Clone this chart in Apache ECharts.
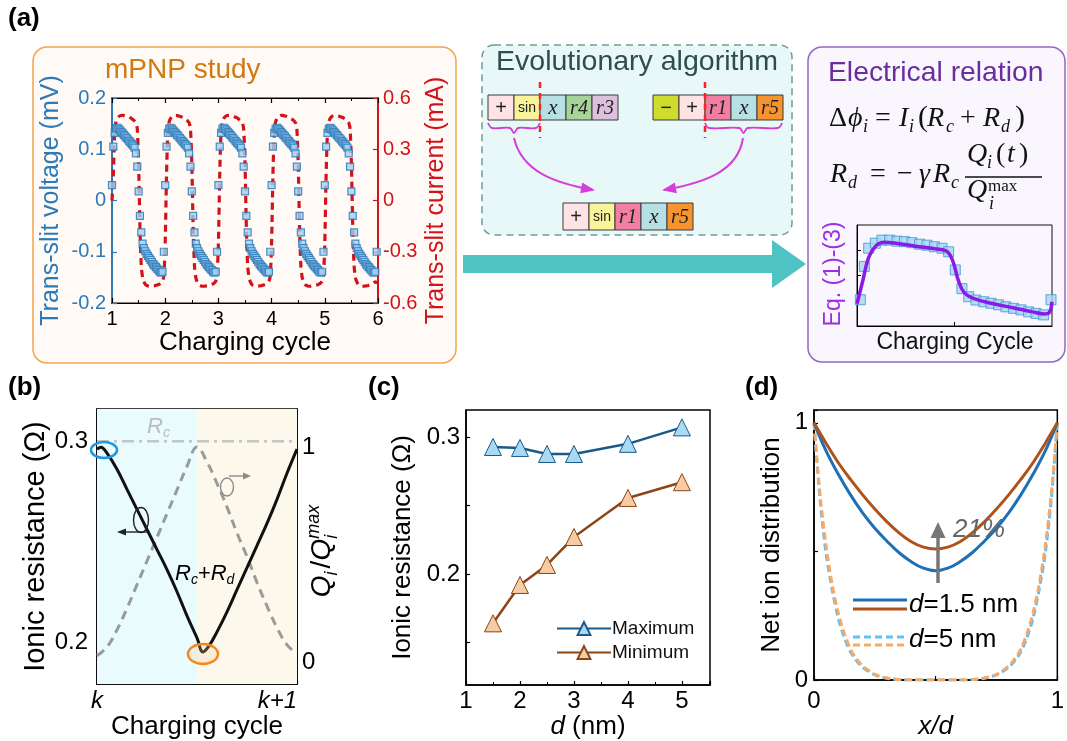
<!DOCTYPE html>
<html><head><meta charset="utf-8">
<script src="https://cdn.jsdelivr.net/npm/echarts@6/dist/echarts.min.js"></script>
<style>html,body{margin:0;padding:0;background:#fff}#c{width:1067px;height:741px}</style>
</head><body><div id="c"></div>
<script>
const SANS = '"Liberation Sans", Arial, Helvetica, sans-serif';
const SERIF = '"Liberation Serif", "DejaVu Serif", "Times New Roman", serif';

// ---------- (a) mPNP study: sampled every 0.025 charging cycle starting at 1 ----------
const SAMPLE_START = 1, SAMPLE_STEP = 0.025;
const voltage = [
 0.030,0.105,0.132,0.140,0.142,0.140,0.137,0.134,0.131,0.128,0.125,0.122,0.119,0.116,0.113,0.110,0.107,0.103,0.092,0.066,0.018,-0.030,-0.062,-0.084,-0.093,-0.099,-0.104,-0.108,-0.112,-0.116,-0.120,-0.124,-0.127,-0.130,-0.133,-0.136,-0.139,-0.141,-0.139,-0.100,
 0.030,0.105,0.132,0.140,0.142,0.140,0.137,0.134,0.131,0.128,0.125,0.122,0.119,0.116,0.113,0.110,0.107,0.103,0.092,0.066,0.018,-0.030,-0.062,-0.084,-0.093,-0.099,-0.104,-0.108,-0.112,-0.116,-0.120,-0.124,-0.127,-0.130,-0.133,-0.136,-0.139,-0.141,-0.139,-0.100,
 0.030,0.105,0.132,0.140,0.142,0.140,0.137,0.134,0.131,0.128,0.125,0.122,0.119,0.116,0.113,0.110,0.107,0.103,0.092,0.066,0.018,-0.030,-0.062,-0.084,-0.093,-0.099,-0.104,-0.108,-0.112,-0.116,-0.120,-0.124,-0.127,-0.130,-0.133,-0.136,-0.139,-0.141,-0.139,-0.100,
 0.030,0.105,0.132,0.140,0.142,0.140,0.137,0.134,0.131,0.128,0.125,0.122,0.119,0.116,0.113,0.110,0.107,0.103,0.092,0.066,0.018,-0.030,-0.062,-0.084,-0.093,-0.099,-0.104,-0.108,-0.112,-0.116,-0.120,-0.124,-0.127,-0.130,-0.133,-0.136,-0.139,-0.141,-0.139,-0.100,
 0.030,0.105,0.132,0.140,0.142,0.140,0.137,0.134,0.131,0.128,0.125,0.122,0.119,0.116,0.113,0.110,0.107,0.103,0.092,0.066,0.018,-0.030,-0.062,-0.084,-0.093,-0.099,-0.104,-0.108,-0.112,-0.116,-0.120,-0.124,-0.127,-0.130,-0.133,-0.136,-0.139,-0.141,-0.139,-0.100
];
const current = [
 0.00,0.15,0.40,0.46,0.48,0.49,0.495,0.498,0.498,0.497,0.495,0.493,0.490,0.487,0.483,0.478,0.472,0.465,0.455,0.42,0.22,-0.15,-0.38,-0.45,-0.475,-0.49,-0.497,-0.50,-0.502,-0.502,-0.501,-0.50,-0.499,-0.497,-0.495,-0.492,-0.488,-0.482,-0.472,-0.44,
 -0.25,0.15,0.40,0.46,0.48,0.49,0.495,0.498,0.498,0.497,0.495,0.493,0.490,0.487,0.483,0.478,0.472,0.465,0.455,0.42,0.22,-0.15,-0.38,-0.45,-0.475,-0.49,-0.497,-0.50,-0.502,-0.502,-0.501,-0.50,-0.499,-0.497,-0.495,-0.492,-0.488,-0.482,-0.472,-0.44,
 -0.25,0.15,0.40,0.46,0.48,0.49,0.495,0.498,0.498,0.497,0.495,0.493,0.490,0.487,0.483,0.478,0.472,0.465,0.455,0.42,0.22,-0.15,-0.38,-0.45,-0.475,-0.49,-0.497,-0.50,-0.502,-0.502,-0.501,-0.50,-0.499,-0.497,-0.495,-0.492,-0.488,-0.482,-0.472,-0.44,
 -0.25,0.15,0.40,0.46,0.48,0.49,0.495,0.498,0.498,0.497,0.495,0.493,0.490,0.487,0.483,0.478,0.472,0.465,0.455,0.42,0.22,-0.15,-0.38,-0.45,-0.475,-0.49,-0.497,-0.50,-0.502,-0.502,-0.501,-0.50,-0.499,-0.497,-0.495,-0.492,-0.488,-0.482,-0.472,-0.44,
 -0.25,0.15,0.40,0.46,0.48,0.49,0.495,0.498,0.498,0.497,0.495,0.493,0.490,0.487,0.483,0.478,0.472,0.465,0.455,0.42,0.22,-0.15,-0.38,-0.45,-0.475,-0.49,-0.497,-0.50,-0.502,-0.502,-0.501,-0.50,-0.499,-0.497,-0.495,-0.492,-0.488,-0.482,-0.476,-0.48,
 -0.48
];

// ---------- (a) inset "Eq. (1)-(3)" ----------
const insetSqX = [0.017,0.038,0.06,0.094,0.128,0.167,0.205,0.243,0.282,0.321,0.359,0.397,0.436,0.47,0.504,0.538,0.573,0.61,0.65,0.687,0.726,0.764,0.803,0.841,0.88,0.918,0.957,0.995];
const insetSqY = [0.26,0.59,0.77,0.82,0.85,0.85,0.84,0.835,0.825,0.81,0.80,0.785,0.77,0.735,0.555,0.37,0.29,0.257,0.24,0.225,0.21,0.19,0.175,0.16,0.14,0.125,0.11,0.26];
const insetLX = [0,0.03,0.06,0.1,0.14,0.2,0.3,0.4,0.46,0.49,0.52,0.55,0.6,0.7,0.8,0.9,0.96,0.985,1.0];
const insetLY = [0.22,0.45,0.68,0.8,0.83,0.82,0.79,0.765,0.74,0.65,0.45,0.33,0.27,0.22,0.18,0.14,0.12,0.13,0.24];

// ---------- (b) ----------
const bT = [0,0.02,0.05,0.1,0.15,0.2,0.25,0.3,0.35,0.4,0.45,0.5,0.53,0.56,0.6,0.65,0.7,0.75,0.8,0.85,0.9,0.95,1.0];
const bRes = [0.296,0.297,0.294,0.286,0.276,0.266,0.256,0.246,0.236,0.225,0.213,0.202,0.195,0.198,0.205,0.215,0.226,0.237,0.248,0.259,0.271,0.284,0.296];
const qT = [0,0.05,0.1,0.15,0.2,0.25,0.3,0.35,0.4,0.45,0.5,0.55,0.6,0.65,0.7,0.75,0.8,0.85,0.9,0.95,1.0];
const qVal = [0.03,0.07,0.15,0.25,0.36,0.47,0.58,0.69,0.80,0.91,1.0,0.93,0.83,0.72,0.60,0.49,0.37,0.26,0.16,0.08,0.04];
const rcValue = 0.3;
const bXLabels = {0: 'k', 1: 'k+1'};

// ---------- (c) ----------
const cD = [1.5, 2, 2.5, 3, 4, 5];
const cMax = [0.2927, 0.292, 0.2876, 0.2876, 0.295, 0.307];
const cMin = [0.164, 0.192, 0.2066, 0.227, 0.2555, 0.267];

// ---------- (d) ----------
const dX = [0,0.05,0.1,0.15,0.2,0.25,0.3,0.35,0.4,0.45,0.5,0.55,0.6,0.65,0.7,0.75,0.8,0.85,0.9,0.95,1];
const d15Blue = [1.0,0.89,0.80,0.72,0.65,0.59,0.54,0.495,0.46,0.435,0.425,0.435,0.46,0.495,0.54,0.59,0.65,0.72,0.80,0.89,1.0];
const d15Brown = [1.0,0.92,0.845,0.78,0.72,0.665,0.615,0.572,0.538,0.517,0.51,0.517,0.538,0.572,0.615,0.665,0.72,0.78,0.845,0.92,1.0];
const dX5 = [0,0.025,0.05,0.075,0.1,0.125,0.15,0.175,0.2,0.25,0.3,0.35,0.4,0.5,0.6,0.65,0.7,0.75,0.8,0.825,0.85,0.875,0.9,0.925,0.95,0.975,1];
const d5Blue = [1,0.70,0.49,0.35,0.24,0.165,0.11,0.075,0.05,0.02,0.007,0.002,0,0,0,0.002,0.007,0.02,0.05,0.075,0.11,0.165,0.24,0.35,0.49,0.70,1];
const d5Orange = [1,0.72,0.52,0.37,0.26,0.18,0.12,0.082,0.055,0.022,0.008,0.002,0,0,0,0.002,0.008,0.022,0.055,0.082,0.12,0.18,0.26,0.37,0.52,0.72,1];

// ---------- helpers ----------
const zip = (xs, ys) => xs.map((x, i) => [x, ys[i]]);
function merge(a, b) {
  const o = Array.isArray(a) ? a.slice() : Object.assign({}, a);
  for (const k in b) {
    if (b[k] && typeof b[k] === 'object' && !Array.isArray(b[k]) && a && typeof a[k] === 'object' && !Array.isArray(a[k])) o[k] = merge(a[k], b[k]);
    else o[k] = b[k];
  }
  return o;
}
const AX = {
  type: 'value', nameLocation: 'middle', splitLine: {show: false},
  axisLine: {show: true, onZero: false, lineStyle: {color: '#000', width: 1.5}},
  axisTick: {show: true, inside: true, length: 5, lineStyle: {color: '#000', width: 1.2}},
  axisLabel: {fontSize: 24, color: '#000', fontFamily: SANS},
  nameTextStyle: {fontSize: 26, color: '#000', fontFamily: SANS}
};
const ax = o => merge(AX, o);

const mctx = document.createElement('canvas').getContext('2d');
const fstr = s => (s.it ? 'italic ' : '') + (s.b ? 'bold ' : '') + s.sz + 'px ' + (s.ff || SANS);
function tw(t, f) { mctx.font = f; return mctx.measureText(t).width; }
function run(segs, x0, base, color, z) {
  const els = []; let x = x0;
  segs.forEach(s => {
    const f = fstr(s);
    const xx = (s.x != null) ? s.x : x;
    els.push({type: 'text', x: xx, y: base + (s.dy || 0) - 0.34 * s.sz, z: z || 60,
      style: {text: s.t, font: f, fill: s.c || color, align: 'left', verticalAlign: 'middle', textAlign: 'left', textVerticalAlign: 'middle'}});
    if (!s.stay) x = xx + tw(s.t, f) + (s.sp || 0);
  });
  return {els, w: x - x0};
}
function txt(x, y, t, sz, o) {
  o = o || {};
  return {type: 'text', x, y, rotation: o.rot || 0, z: o.z || 60,
    style: {text: t, font: (o.it ? 'italic ' : '') + (o.b ? 'bold ' : '') + sz + 'px ' + (o.ff || SANS), fill: o.c || '#000',
      align: o.al || 'left', verticalAlign: 'middle', textAlign: o.al || 'left', textVerticalAlign: 'middle'}};
}
const G = [];
function arrow(x1, y1, x2, y2, c, w, hl, hw) {
  const dx = x2 - x1, dy = y2 - y1, L = Math.hypot(dx, dy), ux = dx / L, uy = dy / L;
  const bx = x2 - ux * hl, by = y2 - uy * hl;
  G.push({type: 'line', shape: {x1, y1, x2: bx + ux, y2: by + uy}, style: {stroke: c, lineWidth: w}, z: 40});
  G.push({type: 'polygon', shape: {points: [[x2, y2], [bx - uy * hw, by + ux * hw], [bx + uy * hw, by - ux * hw]]}, style: {fill: c}, z: 40});
}
function curveArrow(p0, c1, c2, p1, col) {
  G.push({type: 'bezierCurve', shape: {x1: p0[0], y1: p0[1], cpx1: c1[0], cpy1: c1[1], cpx2: c2[0], cpy2: c2[1], x2: p1[0], y2: p1[1]},
    style: {stroke: col, lineWidth: 2, fill: 'none'}, z: 40});
  const dx = p1[0] - c2[0], dy = p1[1] - c2[1], L = Math.hypot(dx, dy), ux = dx / L, uy = dy / L;
  const hl = 12, hw = 5.5, bx = p1[0] - ux * hl, by = p1[1] - uy * hl;
  G.push({type: 'polygon', shape: {points: [[p1[0] + ux * 2, p1[1] + uy * 2], [bx - uy * hw, by + ux * hw], [bx + uy * hw, by - ux * hw]]}, style: {fill: col}, z: 41});
}
function brace(x0, x1, y, col) {
  const m = (x0 + x1) / 2;
  G.push({type: 'polyline', shape: {points: [[x0, y], [x0 + 4, y + 5], [m - 4, y + 5], [m, y + 10], [m + 4, y + 5], [x1 - 4, y + 5], [x1, y]], smooth: 0.35},
    style: {stroke: col, lineWidth: 1.8, fill: 'none'}, z: 40});
}

// ---------- decoration: boxes, titles ----------
G.push({type: 'rect', shape: {x: 33, y: 47, width: 423, height: 316, r: 14}, style: {fill: '#fffaf5', stroke: '#f3a44f', lineWidth: 1.5}, z: -10});
G.push({type: 'rect', shape: {x: 482, y: 45, width: 310, height: 190, r: 12}, style: {fill: '#e8f7f7', stroke: '#6f9c98', lineWidth: 1.5, lineDash: [7, 5]}, z: -10});
G.push({type: 'rect', shape: {x: 808, y: 47, width: 257, height: 315, r: 14}, style: {fill: '#f9f6fd', stroke: '#9468bf', lineWidth: 1.5}, z: -10});
G.push({type: 'polygon', shape: {points: [[463, 255], [772, 255], [772, 240], [806, 264], [772, 288], [772, 273], [463, 273]]}, style: {fill: '#4fc3c3'}, z: 5});

G.push(txt(8, 19, '(a)', 26, {b: 1}));
G.push(txt(8, 388, '(b)', 26, {b: 1}));
G.push(txt(368, 388, '(c)', 26, {b: 1}));
G.push(txt(745, 388, '(d)', 26, {b: 1}));

G.push(txt(105, 70, 'mPNP study', 28, {c: '#d07a12'}));
G.push(txt(637, 62, 'Evolutionary algorithm', 28.5, {c: '#2e4e4b', al: 'center'}));
G.push(txt(828, 73, 'Electrical relation', 28.3, {c: '#6a2d9f'}));

// ---------- gene blocks ----------
const CELL = {
  '+': {t: '+', f: '20px ' + SANS}, '−': {t: '−', f: '20px ' + SANS}, 'sin': {t: 'sin', f: '14px ' + SANS},
  'x': {t: 'x', f: 'italic 21px ' + SERIF}, 'r1': {t: 'r1', f: 'italic 20px ' + SERIF}, 'r3': {t: 'r3', f: 'italic 20px ' + SERIF},
  'r4': {t: 'r4', f: 'italic 20px ' + SERIF}, 'r5': {t: 'r5', f: 'italic 20px ' + SERIF}
};
const CCOL = {'+': '#fde3e3', '−': '#cfdc2e', 'sin': '#fbf39a', 'x': '#b6e0e4', 'r1': '#f27fa3', 'r3': '#dcc0de', 'r4': '#a7d49a', 'r5': '#f7942f'};
function cells(x0, y0, w, h, keys) {
  keys.forEach((k, i) => {
    G.push({type: 'rect', shape: {x: x0 + i * w, y: y0, width: w, height: h}, style: {fill: CCOL[k], stroke: '#3a3a3a', lineWidth: 1}, z: 20});
    G.push({type: 'text', x: x0 + i * w + w / 2, y: y0 + h / 2 + 1, z: 21,
      style: {text: CELL[k].t, font: CELL[k].f, fill: '#222', align: 'center', verticalAlign: 'middle', textAlign: 'center', textVerticalAlign: 'middle'}});
  });
}
cells(488, 95, 26, 25, ['+', 'sin', 'x', 'r4', 'r3']);
cells(653, 95, 26, 25, ['−', '+', 'r1', 'x', 'r5']);
cells(563, 203, 26, 27, ['+', 'sin', 'r1', 'x', 'r5']);
G.push({type: 'line', shape: {x1: 540, y1: 82, x2: 540, y2: 138}, style: {stroke: '#ff2020', lineWidth: 2.5, lineDash: [6, 5]}, z: 30});
G.push({type: 'line', shape: {x1: 705, y1: 82, x2: 705, y2: 138}, style: {stroke: '#ff2020', lineWidth: 2.5, lineDash: [6, 5]}, z: 30});
brace(488, 540, 123, '#d040d0');
brace(705, 782, 123, '#d040d0');
curveArrow([514, 138], [522, 172], [555, 183], [593, 190], '#d63fd6');
curveArrow([743, 138], [738, 172], [703, 183], [664, 190], '#d63fd6');

// ---------- equations ----------
const E = 28, S = 18;
run([
  {t: 'Δ', sz: E, ff: SERIF, x: 829}, {t: 'ϕ', sz: E, ff: SERIF, it: 1, x: 848}, {t: 'i', sz: S, ff: SERIF, it: 1, dy: 5, x: 863},
  {t: '=', sz: E, ff: SERIF, x: 875}, {t: 'I', sz: E, ff: SERIF, it: 1, x: 899}, {t: 'i', sz: S, ff: SERIF, it: 1, dy: 5, x: 909},
  {t: '(', sz: 30, ff: SERIF, x: 918}, {t: 'R', sz: E, ff: SERIF, it: 1, x: 927}, {t: 'c', sz: S, ff: SERIF, it: 1, dy: 5, x: 946},
  {t: '+', sz: E, ff: SERIF, x: 960}, {t: 'R', sz: E, ff: SERIF, it: 1, x: 983}, {t: 'd', sz: S, ff: SERIF, it: 1, dy: 5, x: 1001},
  {t: ')', sz: 30, ff: SERIF, x: 1015}
], 830, 128, '#111').els.forEach(e => G.push(e));
run([
  {t: 'R', sz: E, ff: SERIF, it: 1, x: 830}, {t: 'd', sz: S, ff: SERIF, it: 1, dy: 5, x: 848},
  {t: '=', sz: E, ff: SERIF, x: 870}, {t: '−', sz: E, ff: SERIF, x: 897}, {t: 'γ', sz: E, ff: SERIF, it: 1, x: 919},
  {t: 'R', sz: E, ff: SERIF, it: 1, x: 933}, {t: 'c', sz: S, ff: SERIF, it: 1, dy: 5, x: 951}
], 830, 184, '#111').els.forEach(e => G.push(e));
run([
  {t: 'Q', sz: E, ff: SERIF, it: 1, x: 967}, {t: 'i', sz: S, ff: SERIF, it: 1, dy: 5, x: 987},
  {t: '(', sz: E, ff: SERIF, x: 996}, {t: 't', sz: E, ff: SERIF, it: 1, x: 1007}, {t: ')', sz: E, ff: SERIF, x: 1019}
], 967, 164, '#111').els.forEach(e => G.push(e));
G.push({type: 'line', shape: {x1: 965, y1: 177, x2: 1042, y2: 177}, style: {stroke: '#111', lineWidth: 1.3}, z: 60});
run([
  {t: 'Q', sz: E, ff: SERIF, it: 1, x: 967}, {t: 'i', sz: S, ff: SERIF, it: 1, dy: 10, x: 989}, {t: 'max', sz: 17, ff: SERIF, dy: -8, x: 988}
], 967, 200, '#111').els.forEach(e => G.push(e));

// inset labels
G.push(txt(834, 274, 'Eq. (1)-(3)', 23, {c: '#9a2ee6', al: 'center', rot: Math.PI / 2}));
G.push(txt(955, 343, 'Charging Cycle', 23, {c: '#111', al: 'center'}));

// ---------- (b) annotations ----------
run([{t: 'R', sz: 22, it: 1, c: '#bdbdbd'}, {t: 'c', sz: 14, it: 1, dy: 4, c: '#bdbdbd'}], 147, 434, '#bdbdbd').els.forEach(e => G.push(e));
run([{t: 'R', sz: 22, it: 1}, {t: 'c', sz: 14, it: 1, dy: 4}, {t: '+', sz: 22}, {t: 'R', sz: 22, it: 1}, {t: 'd', sz: 14, it: 1, dy: 4}], 175, 581, '#000').els.forEach(e => G.push(e));
G.push({type: 'ellipse', shape: {cx: 104, cy: 450, rx: 13, ry: 8}, style: {fill: 'none', stroke: '#1f98dc', lineWidth: 2.5}, z: 45});
G.push({type: 'ellipse', shape: {cx: 203, cy: 654, rx: 15, ry: 10}, style: {fill: 'rgba(248,200,150,0.25)', stroke: '#f28a1a', lineWidth: 2.5}, z: 45});
G.push({type: 'ellipse', shape: {cx: 141, cy: 520, rx: 7.5, ry: 12.5}, style: {fill: 'none', stroke: '#222', lineWidth: 1.4}, z: 45});
arrow(148, 532, 117, 532, '#222', 1.4, 9, 3.5);
G.push({type: 'ellipse', shape: {cx: 227, cy: 487, rx: 6.5, ry: 9}, style: {fill: 'none', stroke: '#8a8a8a', lineWidth: 1.4}, z: 45});
arrow(229, 476, 251, 476, '#8a8a8a', 1.4, 8, 3.5);
(function () {
  const r = run([
    {t: 'Q', sz: 28, it: 1}, {t: 'i', sz: 18, it: 1, dy: 6, sp: 3}, {t: '/', sz: 28}, {t: 'Q', sz: 28, it: 1},
    {t: 'i', sz: 18, it: 1, dy: 6, stay: 1}, {t: 'max', sz: 18, it: 1, dy: -12}
  ], 0, 10, '#000');
  r.els.forEach(e => { e.x -= r.w / 2; });
  G.push({type: 'group', x: 322, y: 551, rotation: Math.PI / 2, children: r.els, z: 60});
})();

// ---------- (d) legend & arrow ----------
G.push({type: 'line', shape: {x1: 853, y1: 600, x2: 907, y2: 600}, style: {stroke: '#1e6fb5', lineWidth: 3}, z: 50});
G.push({type: 'line', shape: {x1: 853, y1: 609, x2: 907, y2: 609}, style: {stroke: '#b0521c', lineWidth: 3}, z: 50});
G.push({type: 'line', shape: {x1: 853, y1: 637, x2: 907, y2: 637}, style: {stroke: '#5ec0f5', lineWidth: 3, lineDash: [7, 4]}, z: 50});
G.push({type: 'line', shape: {x1: 853, y1: 645, x2: 907, y2: 645}, style: {stroke: '#f5aa6a', lineWidth: 3, lineDash: [7, 4]}, z: 50});
run([{t: 'd', sz: 26, it: 1}, {t: '=1.5 nm', sz: 26}], 909, 614, '#000').els.forEach(e => G.push(e));
run([{t: 'd', sz: 26, it: 1}, {t: '=5 nm', sz: 26}], 909, 649, '#000').els.forEach(e => G.push(e));
arrow(938, 583, 938, 522, '#777', 3.5, 16, 7.5);
G.push(txt(953, 530, '21%', 26, {it: 1, c: '#666'}));

// ---------- option ----------
const option = {
  animation: false,
  backgroundColor: '#ffffff',
  grid: [
    {left: 112, top: 98, width: 266, height: 205, show: true, borderColor: '#111', borderWidth: 1.2},
    {left: 857, top: 225, width: 195, height: 101, show: true, borderColor: '#111', borderWidth: 1},
    {left: 97, top: 409, width: 200, height: 276, show: true, borderColor: '#000', borderWidth: 1.5},
    {left: 466, top: 410, width: 244, height: 275, show: true, borderColor: '#000', borderWidth: 1.5},
    {left: 814, top: 410, width: 249, height: 273, show: true, borderColor: '#000', borderWidth: 1.5}
  ],
  xAxis: [
    ax({gridIndex: 0, min: 1, max: 6, interval: 1, name: 'Charging cycle', nameGap: 27,
      nameTextStyle: {fontSize: 26}, axisLabel: {fontSize: 20, margin: 6},
      axisLine: {lineStyle: {width: 1.2}}, minorTick: {show: true, splitNumber: 2, length: 3, lineStyle: {color: '#000'}}}),
    ax({gridIndex: 0, position: 'top', min: 1, max: 6, interval: 1, axisLabel: {show: false},
      axisLine: {lineStyle: {width: 1.2}}, minorTick: {show: true, splitNumber: 2, length: 3, lineStyle: {color: '#000'}}}),
    ax({gridIndex: 1, min: 0, max: 1, axisLabel: {show: false}, axisLine: {lineStyle: {width: 1}},
      axisTick: {customValues: [0.5], length: 4, lineStyle: {width: 1}}}),
    ax({gridIndex: 2, min: 0, max: 1, interval: 0.5, name: 'Charging cycle', nameGap: 19,
      axisLabel: {fontStyle: 'italic', margin: 5, formatter: v => bXLabels[v] || '', alignMaxLabel: 'right'},
      axisTick: {length: 4}}),
    ax({gridIndex: 3, min: 1, max: 5.52, interval: 1, name: '{i|d} (nm)', nameGap: 19,
      nameTextStyle: {rich: {i: {fontStyle: 'italic', fontSize: 26, fontFamily: SANS, color: '#000'}}},
      axisLabel: {margin: 4}, axisTick: {length: 4}, minorTick: {show: true, splitNumber: 2, length: 3, lineStyle: {color: '#000'}}}),
    ax({gridIndex: 4, min: 0, max: 1, interval: 0.5, name: 'x/d', nameGap: 21,
      nameTextStyle: {fontStyle: 'italic'}, axisLabel: {margin: 9, formatter: v => (v === 0 || v === 1) ? String(v) : ''},
      axisTick: {length: 4}})
  ],
  yAxis: [
    ax({gridIndex: 0, min: -0.2, max: 0.2, interval: 0.1, name: 'Trans-slit voltage (mV)', nameGap: 48, nameRotate: 90,
      nameTextStyle: {fontSize: 25, color: '#2b7bba'},
      axisLabel: {fontSize: 20, color: '#2b7bba', margin: 6},
      axisLine: {lineStyle: {color: '#2b7bba', width: 2}}, axisTick: {lineStyle: {color: '#2b7bba'}}}),
    ax({gridIndex: 0, position: 'right', min: -0.6, max: 0.6, interval: 0.3, name: 'Trans-slit current (mA)', nameGap: 46, nameRotate: 90,
      nameTextStyle: {fontSize: 25, color: '#d0141c'},
      axisLabel: {fontSize: 20, color: '#d0141c', margin: 5},
      axisLine: {lineStyle: {color: '#d0141c', width: 2}}, axisTick: {lineStyle: {color: '#d0141c'}}}),
    ax({gridIndex: 1, min: 0, max: 1, axisLabel: {show: false}, axisLine: {lineStyle: {width: 1}},
      axisTick: {customValues: [0.5, 0.75], length: 4, lineStyle: {width: 1}}}),
    ax({gridIndex: 2, min: 0.179, max: 0.316, name: 'Ionic resistance (Ω)', nameGap: 47, nameRotate: 90,
      nameTextStyle: {fontSize: 29},
      axisLabel: {margin: 9, customValues: [0.2, 0.3], formatter: v => String(v)},
      axisTick: {customValues: [0.2, 0.25, 0.3], length: 4}}),
    ax({gridIndex: 2, position: 'right', min: -0.102, max: 1.176,
      axisLabel: {margin: 5, customValues: [0, 1], formatter: v => String(v)},
      axisTick: {customValues: [0, 0.5, 1], length: 4}}),
    ax({gridIndex: 3, min: 0.119, max: 0.3197, name: 'Ionic resistance (Ω)', nameGap: 50, nameRotate: 90,
      axisLabel: {margin: 6, customValues: [0.2, 0.3], formatter: v => String(v)},
      axisTick: {customValues: [0.15, 0.2, 0.25, 0.3], length: 4}}),
    ax({gridIndex: 4, min: 0, max: 1.05, interval: 0.5, name: 'Net ion distribution', nameGap: 29, nameRotate: 90,
      axisLabel: {margin: 6, formatter: v => (v === 0 || v === 1) ? String(v) : ''}, axisTick: {length: 4}})
  ],
  legend: {
    data: ['Maximum', 'Minimum'], left: 551, top: 614, orient: 'vertical', itemWidth: 54, itemHeight: 16, itemGap: 5,
    textStyle: {fontSize: 19, color: '#111', fontFamily: SANS, padding: [0, 0, 0, -4]}, selectedMode: false
  },
  graphic: {elements: G},
  series: [
    // (a)
    {name: 'current', type: 'line', xAxisIndex: 0, yAxisIndex: 1, showSymbol: false, smooth: 0.25, z: 3,
      data: current.map((v, i) => [SAMPLE_START + i * SAMPLE_STEP, v]),
      lineStyle: {color: '#d01419', width: 3.2, type: [7, 5]}},
    {name: 'voltage', type: 'scatter', xAxisIndex: 0, yAxisIndex: 0, symbol: 'rect', symbolSize: 7, z: 4,
      data: voltage.map((v, i) => [SAMPLE_START + i * SAMPLE_STEP, v]),
      itemStyle: {color: '#a3d0f0', borderColor: '#2676b6', borderWidth: 1.2}},
    {name: 'inset-sq', type: 'scatter', xAxisIndex: 2, yAxisIndex: 2, symbol: 'rect', symbolSize: 10, z: 3,
      data: zip(insetSqX, insetSqY), itemStyle: {color: '#a8d6f4', borderColor: '#3d94d6', borderWidth: 1}},
    {name: 'inset-line', type: 'line', xAxisIndex: 2, yAxisIndex: 2, showSymbol: false, smooth: 0.4, z: 4,
      data: zip(insetLX, insetLY), lineStyle: {color: '#8a1be6', width: 3.5}},
    // (b)
    {name: 'bg', type: 'line', xAxisIndex: 3, yAxisIndex: 3, showSymbol: false, z: 1, data: [[0, rcValue]],
      lineStyle: {opacity: 0},
      markArea: {silent: true, data: [
        [{xAxis: 0, itemStyle: {color: '#e9fbfc'}}, {xAxis: 0.5}],
        [{xAxis: 0.5, itemStyle: {color: '#fdf8ec'}}, {xAxis: 1}]
      ]}},
    {name: 'Rc', type: 'line', xAxisIndex: 3, yAxisIndex: 3, showSymbol: false, z: 2,
      data: [[0, rcValue], [1, rcValue]], lineStyle: {color: '#c4c4c4', width: 2.5, type: [12, 5, 3, 5]}},
    {name: 'Q', type: 'line', xAxisIndex: 3, yAxisIndex: 4, showSymbol: false, smooth: 0.4, z: 3,
      data: zip(qT, qVal), lineStyle: {color: '#9a9a9a', width: 3, type: [9, 6]}},
    {name: 'R', type: 'line', xAxisIndex: 3, yAxisIndex: 3, showSymbol: false, smooth: 0.4, z: 4,
      data: zip(bT, bRes), lineStyle: {color: '#111', width: 3}},
    // (c)
    {name: 'Maximum', type: 'line', xAxisIndex: 4, yAxisIndex: 5, symbol: 'triangle', symbolSize: 17, z: 4,
      data: zip(cD, cMax), lineStyle: {color: '#1b5a88', width: 2.5},
      itemStyle: {color: '#a9d9f3', borderColor: '#1b5a88', borderWidth: 1}},
    {name: 'Minimum', type: 'line', xAxisIndex: 4, yAxisIndex: 5, symbol: 'triangle', symbolSize: 17, z: 4,
      data: zip(cD, cMin), lineStyle: {color: '#8b4516', width: 2.5},
      itemStyle: {color: '#f7cba3', borderColor: '#8b4516', borderWidth: 1}},
    // (d)
    {name: 'd5-blue', type: 'line', xAxisIndex: 5, yAxisIndex: 6, showSymbol: false, smooth: 0.3, z: 3,
      data: zip(dX5, d5Blue), lineStyle: {color: '#5ec0f5', width: 3, type: [7, 4]}},
    {name: 'd5-orange', type: 'line', xAxisIndex: 5, yAxisIndex: 6, showSymbol: false, smooth: 0.3, z: 3,
      data: zip(dX5, d5Orange), lineStyle: {color: '#f5aa6a', width: 3, type: [7, 4]}},
    {name: 'd15-blue', type: 'line', xAxisIndex: 5, yAxisIndex: 6, showSymbol: false, smooth: 0.4, z: 4,
      data: zip(dX, d15Blue), lineStyle: {color: '#1e6fb5', width: 3}},
    {name: 'd15-brown', type: 'line', xAxisIndex: 5, yAxisIndex: 6, showSymbol: false, smooth: 0.4, z: 4,
      data: zip(dX, d15Brown), lineStyle: {color: '#b0521c', width: 3}}
  ]
};
const chart = echarts.init(document.getElementById('c'), null, {renderer: 'canvas', width: 1067, height: 741});
chart.setOption(option);
</script></body></html>
